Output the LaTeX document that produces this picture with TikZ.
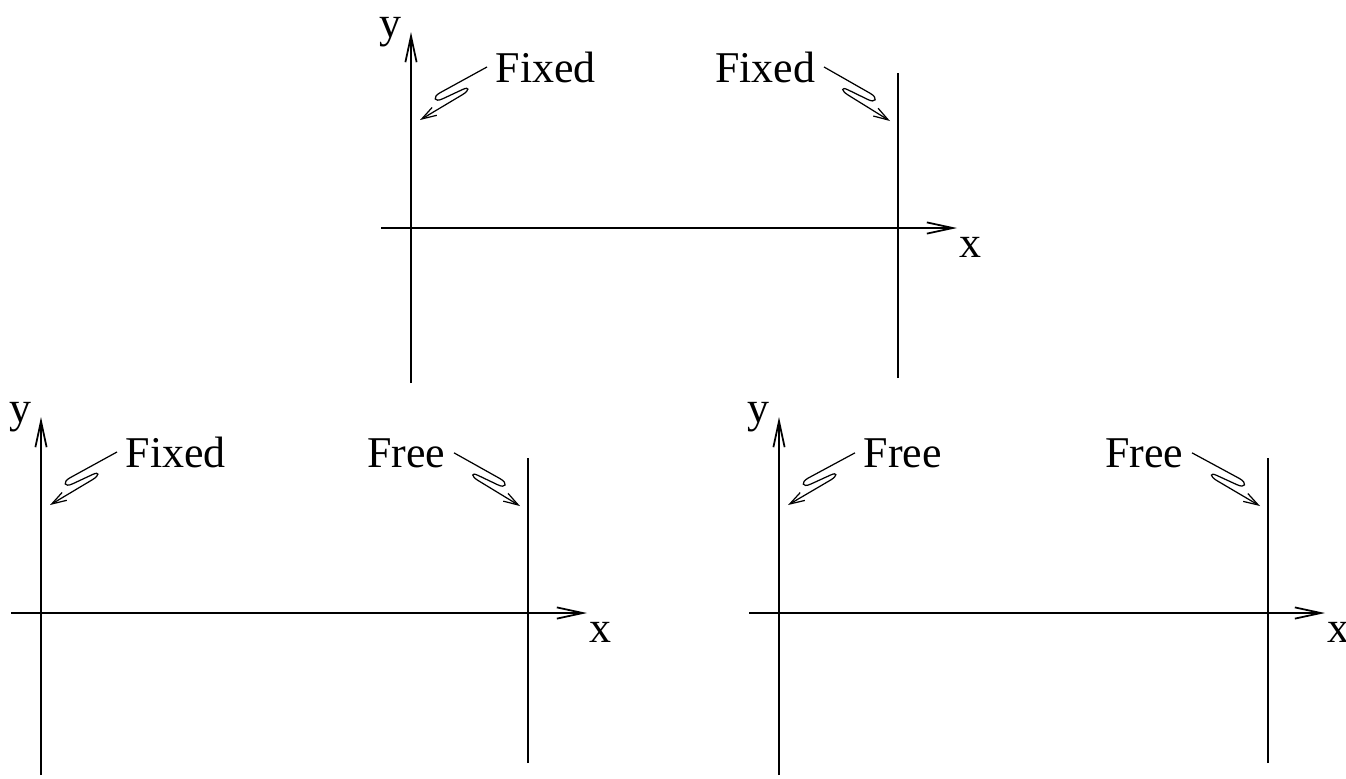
\documentclass[tikz,border=0pt]{standalone}
\usepackage{fontspec}
\setmainfont{Liberation Serif}
\usetikzlibrary{arrows.meta,calc}

\begin{document}
\begin{tikzpicture}[
    axis/.style={line width=0.5pt, -{Straight Barb[length=7.4pt,width=3.2pt]}},
    wall/.style={line width=0.5pt},
    lbl/.style={font=\fontsize{12.5}{15}\selectfont, inner sep=0.8mm},
    zap/.style={line width=0.35pt, -{Straight Barb[length=4.2pt,width=2.6pt]},
        to path={let \p1=($(\tikztotarget)-(\tikztostart)$),
                     \n1={atan2(\y1,\x1)}, \n2={veclen(\x1,\y1)/85},
                     \p2=($(\tikztostart)+({\n1+(#1)*9.6}:{53.0*\n2})$),
                     \p3=($(\tikztostart)+({\n1+(#1)*9.6}:{62.5*\n2})$),
                     \p4=($(\tikztostart)+({\n1+(#1)*4.1}:{63.5*\n2})$),
                     \p5=($(\tikztostart)+({\n1+(#1)*2.65}:{54.1*\n2})$),
                     \p6=($(\tikztostart)+({\n1-(#1)*4.3}:{33.1*\n2})$),
                     \p7=($(\tikztostart)+({\n1-(#1)*9.7}:{25.6*\n2})$),
                     \p8=($(\tikztostart)+({\n1-(#1)*14.8}:{29.0*\n2})$),
                     \p9=($(\tikztostart)+({\n1-(#1)*10.2}:{36.6*\n2})$) in
            (\tikztostart) -- (\p2) .. controls (\p3) and (\p4) .. (\p5)
            -- (\p6) .. controls (\p7) and (\p8) .. (\p9) -- (\tikztotarget)}}
]
\useasboundingbox (0,0) rectangle (13.46,7.78);

% Top: Fixed - Fixed
\begin{scope}[shift={(4.11,5.50)}]
    \draw[axis] (0,-1.55) -- (0,1.96);
    \draw[wall] (4.87,-1.50) -- (4.87,1.55);
    \draw[axis] (-0.30,0) -- (5.46,0);

    \node[lbl,anchor=base] (tx) at (5.59,-0.29) {x};
    \node[lbl,anchor=base] (ty) at (-0.21,1.91) {y};
    \node[lbl,anchor=base west] (tl) at (0.76,1.46) {Fixed};
    \node[lbl,anchor=base east] (tr) at (4.13,1.46) {Fixed};

    \coordinate (tl-end) at (0.09,1.08);
    \coordinate (tr-end) at (4.79,1.07);
    \draw[zap=-1] (tl.west) to (tl-end);
    \draw[zap=1] (tr.east) to (tr-end);
\end{scope}

% Bottom left: Fixed - Free
\begin{scope}[shift={(0.41,1.65)}]
    \draw[axis] (0,-1.62) -- (0,1.96);
    \draw[wall] (4.87,-1.50) -- (4.87,1.55);
    \draw[axis] (-0.30,0) -- (5.46,0);

    \node[lbl,anchor=base] (lx) at (5.59,-0.29) {x};
    \node[lbl,anchor=base] (ly) at (-0.21,1.91) {y};
    \node[lbl,anchor=base west] (ll) at (0.76,1.46) {Fixed};
    \node[lbl,anchor=base east] (lr) at (4.13,1.46) {Free};

    \coordinate (ll-end) at (0.09,1.08);
    \coordinate (lr-end) at (4.79,1.07);
    \draw[zap=-1] (ll.west) to (ll-end);
    \draw[zap=1] (lr.east) to (lr-end);
\end{scope}

% Bottom right: Free - Free
\begin{scope}[shift={(7.79,1.65)}]
    \draw[axis] (0,-1.62) -- (0,1.96);
    \draw[wall] (4.89,-1.50) -- (4.89,1.55);
    \draw[axis] (-0.30,0) -- (5.46,0);

    \node[lbl,anchor=base] (rx) at (5.59,-0.29) {x};
    \node[lbl,anchor=base] (ry) at (-0.21,1.91) {y};
    \node[lbl,anchor=base west] (rl) at (0.76,1.46) {Free};
    \node[lbl,anchor=base east] (rr) at (4.13,1.46) {Free};

    \coordinate (rl-end) at (0.09,1.08);
    \coordinate (rr-end) at (4.81,1.07);
    \draw[zap=-1] (rl.west) to (rl-end);
    \draw[zap=1] (rr.east) to (rr-end);
\end{scope}

\end{tikzpicture}
\end{document}
